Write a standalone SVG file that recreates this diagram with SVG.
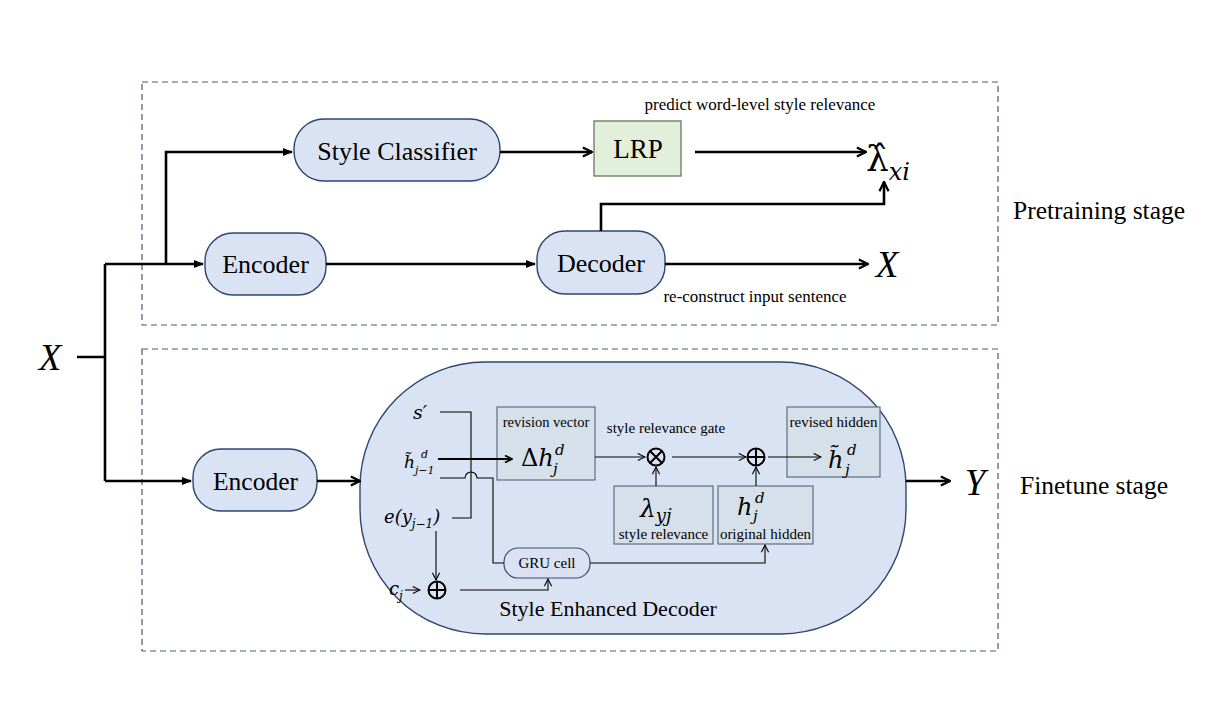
<svg xmlns="http://www.w3.org/2000/svg" width="1206" height="717" viewBox="0 0 1206 717">
<defs>
<marker id="tri" viewBox="0 0 10 10" refX="9" refY="5" markerWidth="4" markerHeight="4" orient="auto"><path d="M0,1 L10,5 L0,9 Z" fill="#000"/></marker>
<marker id="chev" viewBox="0 0 10 10" refX="9" refY="5" markerWidth="4.4" markerHeight="4.4" orient="auto"><path d="M1,1 L9,5 L1,9" fill="none" stroke="#000" stroke-width="2"/></marker>
<marker id="chevs" viewBox="0 0 10 10" refX="9" refY="5" markerWidth="9" markerHeight="9" orient="auto" markerUnits="userSpaceOnUse"><path d="M1,1 L9,5 L1,9" fill="none" stroke="#000" stroke-width="1.2"/></marker>
</defs>
<style>
.t{font-family:"Liberation Serif","Times New Roman",serif;fill:#000}
.m{font-family:"DejaVu Serif","Liberation Serif",serif;font-style:italic;fill:#000}
.mu{font-family:"DejaVu Serif","Liberation Serif",serif;fill:#000}
.dash{fill:none;stroke:#4b5874;stroke-width:1.2;stroke-dasharray:6 4}
.node{fill:#dae3f3;stroke:#2e4670;stroke-width:1.4}
.ibox{fill:#d6e0ea;stroke:#5c6f82;stroke-width:1.2}
.thick{fill:none;stroke:#000;stroke-width:2.6}
.thin{fill:none;stroke:#000;stroke-width:1.1}
</style>
<rect width="1206" height="717" fill="#fff"/>

<g id="stages">
<rect class="dash" x="142" y="82" width="856" height="243"/>
<rect class="dash" x="142" y="349" width="856" height="302"/>
<text class="t" x="1013" y="219" font-size="25.5">Pretraining stage</text>
<text class="t" x="1020" y="494" font-size="25.5">Finetune stage</text>
</g>

<g id="input-x">
<text class="t" x="50" y="370" font-size="37" font-style="italic" text-anchor="middle">X</text>
</g>

<g id="style-classifier">
<rect class="node" x="294" y="119" width="206" height="62" rx="30"/>
<text class="t" x="397" y="160" font-size="26" text-anchor="middle">Style Classifier</text>
</g>

<g id="lrp">
<rect x="594" y="121" width="87" height="55" fill="#e2efda" stroke="#5b6b55" stroke-width="1.2"/>
<text class="t" x="638" y="158" font-size="27" text-anchor="middle">LRP</text>
<text class="t" x="760" y="110" font-size="17" text-anchor="middle">predict word-level style relevance</text>
</g>

<g id="lambda-hat">
<text class="mu" x="866" y="171" font-size="36">λ̂<tspan dy="9" font-size="24" font-style="italic">xi</tspan></text>
</g>

<g id="encoder-top">
<rect class="node" x="205" y="233" width="121" height="62" rx="28"/>
<text class="t" x="265.5" y="273" font-size="26" text-anchor="middle">Encoder</text>
</g>

<g id="decoder">
<rect class="node" x="537" y="231" width="128" height="63" rx="28"/>
<text class="t" x="601" y="272" font-size="26" text-anchor="middle">Decoder</text>
<text class="t" x="755" y="302" font-size="17" text-anchor="middle">re-construct input sentence</text>
</g>

<g id="output-x">
<text class="t" x="887" y="277" font-size="37" font-style="italic" text-anchor="middle">X</text>
</g>

<g id="encoder-bottom">
<rect class="node" x="193" y="449" width="124" height="62" rx="28"/>
<text class="t" x="255.5" y="490" font-size="25.5" text-anchor="middle">Encoder</text>
</g>

<g id="style-enhanced-decoder">
<rect class="node" x="360" y="362" width="546" height="272" rx="125" fill="#d9e1f2" stroke="#3a4c6e"/>
<text class="t" x="608" y="616" font-size="22" text-anchor="middle">Style Enhanced Decoder</text>
</g>

<g id="inputs">
<text class="m" x="413" y="419" font-size="19">s′</text>
<text class="m" x="404" y="468" font-size="17">h̃<tspan dy="6" font-size="11">j−1</tspan></text>
<text class="m" x="421" y="458" font-size="11">d</text>
<text class="m" x="384" y="523" font-size="18">e(y<tspan dy="5" font-size="12">j−1</tspan><tspan dy="-5">)</tspan></text>
<text class="m" x="389" y="595" font-size="18">c<tspan dy="5" font-size="12">j</tspan></text>
</g>

<g id="revision-vector">
<rect class="ibox" x="497" y="407" width="98" height="73"/>
<text class="t" x="546" y="427" font-size="14.5" text-anchor="middle">revision vector</text>
<text class="mu" x="521" y="466" font-size="24">Δ<tspan font-style="italic">h</tspan></text>
<text class="m" x="555" y="455" font-size="15">d</text>
<text class="m" x="553" y="474" font-size="15">j</text>
</g>

<g id="gate">
<text class="t" x="666" y="433" font-size="15" text-anchor="middle">style relevance gate</text>
<circle cx="656" cy="457" r="8.5" fill="none" stroke="#000" stroke-width="2"/>
<path d="M650,451 L662,463 M662,451 L650,463" stroke="#000" stroke-width="2"/>
</g>

<g id="add">
<circle cx="756" cy="457" r="8.5" fill="none" stroke="#000" stroke-width="2"/>
<path d="M747.5,457 H764.5 M756,448.5 V465.5" stroke="#000" stroke-width="2"/>
</g>

<g id="add-input">
<circle cx="437" cy="590" r="8.5" fill="none" stroke="#000" stroke-width="2"/>
<path d="M428.5,590 H445.5 M437,581.5 V598.5" stroke="#000" stroke-width="2"/>
</g>

<g id="revised-hidden">
<rect class="ibox" x="787" y="407" width="93" height="70"/>
<text class="t" x="833.5" y="427" font-size="15" text-anchor="middle">revised hidden</text>
<text class="m" x="828" y="468" font-size="24">h̃</text>
<text class="m" x="847" y="455" font-size="15">d</text>
<text class="m" x="845" y="475" font-size="15">j</text>
</g>

<g id="style-relevance">
<rect class="ibox" x="614" y="486" width="99" height="58"/>
<text class="m" x="640" y="517" font-size="25">λ<tspan dy="5" font-size="18">yj</tspan></text>
<text class="t" x="663.5" y="539" font-size="15" text-anchor="middle">style relevance</text>
</g>

<g id="original-hidden">
<rect class="ibox" x="718" y="486" width="95" height="58"/>
<text class="m" x="737" y="515" font-size="24">h</text>
<text class="m" x="755" y="503" font-size="15">d</text>
<text class="m" x="753" y="521" font-size="15">j</text>
<text class="t" x="765.5" y="539" font-size="15" text-anchor="middle">original hidden</text>
</g>

<g id="gru-cell">
<rect x="504" y="548" width="86" height="30" rx="14" fill="#d9e1f2" stroke="#3a4c6e" stroke-width="1.2"/>
<text class="t" x="547" y="568" font-size="15" text-anchor="middle">GRU cell</text>
</g>

<g id="output-y">
<text class="t" x="975" y="495" font-size="37" font-style="italic" text-anchor="middle">Y</text>
</g>

<g id="connectors">
<path class="thick" d="M77,357 H105 M105,264 V481"/>
<path class="thick" d="M105,264 H203" marker-end="url(#tri)"/>
<path class="thick" d="M166,264 V152 H292" marker-end="url(#tri)"/>
<path class="thick" d="M326,264 H535" marker-end="url(#tri)"/>
<path class="thick" d="M500,152 H592" marker-end="url(#chev)"/>
<path class="thick" d="M695,152 H866" marker-end="url(#chev)"/>
<path class="thick" d="M601,231 V204 H884 V182" marker-end="url(#chev)"/>
<path class="thick" d="M665,264 H868" marker-end="url(#chev)"/>
<path class="thick" d="M105,481 H191" marker-end="url(#tri)"/>
<path class="thick" d="M317,481 H360" marker-end="url(#chev)"/>
<path class="thick" d="M906,481 H950" marker-end="url(#chev)"/>

<path class="thin" d="M440,412 H471 V518 H452"/>
<path d="M438,459 H512" fill="none" stroke="#000" stroke-width="2" marker-end="url(#chev)"/>
<path class="thin" d="M440,478 H465 A6,6 0 0 1 477,478 H493 V563 H504"/>
<path class="thin" d="M436,531 V580" marker-end="url(#chevs)"/>
<path class="thin" d="M405,590 H420" marker-end="url(#chevs)"/>
<path class="thin" d="M460,590 H548 V579" marker-end="url(#chevs)"/>
<path class="thin" d="M590,563 H765 V545" marker-end="url(#chevs)"/>
<path class="thin" d="M595,457 H645" marker-end="url(#chevs)"/>
<path class="thin" d="M672,457 H746" marker-end="url(#chevs)"/>
<path class="thin" d="M768,457 H821" marker-end="url(#chevs)"/>
<path class="thin" d="M656,486 V467" marker-end="url(#chevs)"/>
<path class="thin" d="M756,486 V467" marker-end="url(#chevs)"/>
</g>
</svg>
